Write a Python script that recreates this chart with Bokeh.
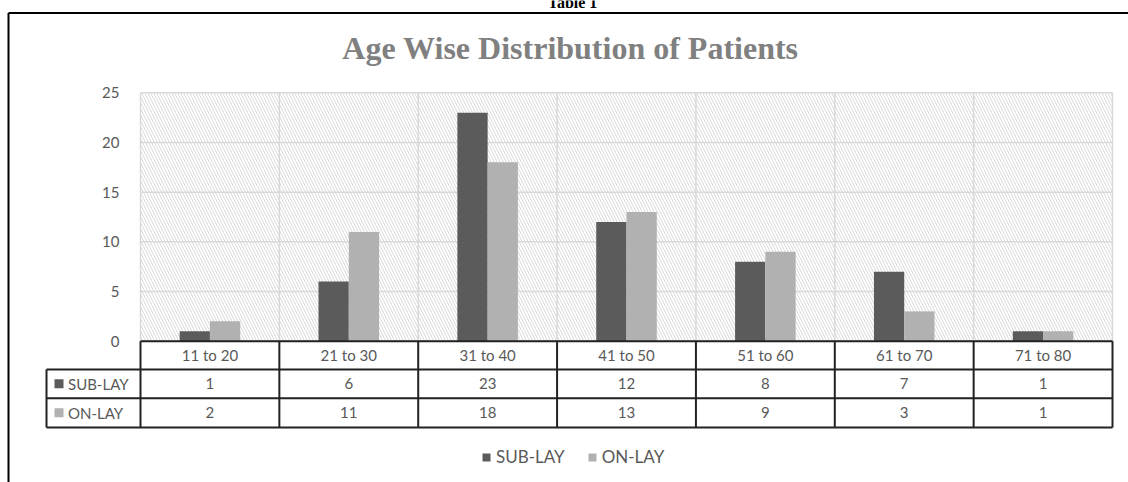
from bokeh.plotting import figure
from bokeh.models import Range1d, ColumnDataSource, Legend, LegendItem
from bokeh.core.properties import value
from bokeh.embed import file_html
from bokeh.resources import INLINE

# ---- data ----
categories = ["11 to 20", "21 to 30", "31 to 40", "41 to 50", "51 to 60", "61 to 70", "71 to 80"]
sub_lay = [1, 6, 23, 12, 8, 7, 1]
on_lay = [2, 11, 18, 13, 9, 3, 1]
series_names = ["SUB-LAY", "ON-LAY"]
y_ticks = [0, 5, 10, 15, 20, 25]
title_text = "Age Wise Distribution of Patients"
caption_text = "Table 1"

# ---- styles ----
C_SUB = "#5b5b5b"
C_ON = "#b1b1b1"
TXT = "#595959"
GRID = "#d9d9d9"
TBL = "#222222"
FONT = "Lato"
W, H = 1128, 482

# ---- layout (pixel geometry of the plot area) ----
X0_PX, X1_PX = 140.0, 1112.0      # left/right of category area
Y0_PX, Y25_PX = 340.7, 92.3       # pixel rows of value 0 and value 25
n = len(categories)
ymax = max(y_ticks)
kx = (X1_PX - X0_PX) / n
ky = (Y0_PX - Y25_PX) / ymax


def px(xp):
    return (xp - X0_PX) / kx


def py(yp):
    return (Y0_PX - yp) / ky


xc = [i + 0.5 for i in range(n)]
bw = 0.218

# table rows
r0, r1, r2, r3 = 0.0, py(369.0), py(397.7), py(427.0)
row_cat = (r0 + r1) / 2
row_sub = (r1 + r2) / 2
row_on = (r2 + r3) / 2
lab_left = px(46.0)

p = figure(width=W, height=H, output_backend="svg", toolbar_location=None,
           x_range=Range1d(px(0), px(W)), y_range=Range1d(py(H), py(0)),
           min_border=0, min_border_left=0, min_border_right=0,
           min_border_top=0, min_border_bottom=0)
p.outline_line_color = None
p.background_fill_color = "white"
p.border_fill_color = "white"
p.axis.visible = False
p.grid.visible = False

# hatched plot background
p.quad(left=[0], right=[n], bottom=[0], top=[ymax], fill_color=None, line_color=None,
       hatch_pattern="\\", hatch_color=GRID, hatch_scale=6, hatch_weight=1)

# gridlines
p.segment(x0=[0] * len(y_ticks), y0=y_ticks, x1=[n] * len(y_ticks), y1=y_ticks,
          line_color=GRID, line_width=1.5)
p.segment(x0=list(range(n + 1)), y0=[0] * (n + 1), x1=list(range(n + 1)),
          y1=[ymax] * (n + 1), line_color=GRID, line_width=1.5)

# y tick labels
p.text(x=[px(119)] * len(y_ticks), y=y_ticks, text=[str(t) for t in y_ticks],
       text_align="right", text_baseline="middle", text_font=value(FONT),
       text_font_size="15px", text_color=TXT)

src = ColumnDataSource(dict(x=xc, cat=categories,
                            sub_s=[str(v) for v in sub_lay], on_s=[str(v) for v in on_lay]))
r_sub = p.vbar(x=[v - bw / 2 for v in xc], top=sub_lay, width=bw, bottom=0,
               fill_color=C_SUB, line_color=None)
r_on = p.vbar(x=[v + bw / 2 for v in xc], top=on_lay, width=bw, bottom=0,
              fill_color=C_ON, line_color=None)

# data table lines
p.segment(x0=[0, lab_left, lab_left, lab_left], y0=[r0, r1, r2, r3],
          x1=[n] * 4, y1=[r0, r1, r2, r3], line_color=TBL, line_width=2)
p.segment(x0=list(range(n + 1)) + [lab_left], y0=[r0] * (n + 1) + [r1],
          x1=list(range(n + 1)) + [lab_left], y1=[r3] * (n + 2),
          line_color=TBL, line_width=2)

# table texts
for col, yy in (("cat", row_cat), ("sub_s", row_sub), ("on_s", row_on)):
    p.text(x="x", y=yy, text=col, source=src, text_align="center", text_baseline="middle",
           text_font=value(FONT), text_font_size="15px", text_color=TXT)

# row labels of the table
p.scatter(x=[px(58.5)] * 2, y=[row_sub, row_on], marker="square", size=9,
          fill_color=[C_SUB, C_ON], line_color=None)
p.text(x=[px(67.5)] * 2, y=[row_sub, row_on], text=series_names, text_align="left",
       text_baseline="middle", text_font=value(FONT), text_font_size="15px", text_color=TXT)

# title and caption
p.text(x=[px(570)], y=[py(47)], text=[title_text], text_align="center",
       text_baseline="middle", text_color="#808080", text_font=value("Liberation Serif"),
       text_font_style="bold", text_font_size="32px")
p.text(x=[px(572)], y=[py(1.5)], text=[caption_text], text_align="center",
       text_baseline="middle", text_color="black", text_font=value("Liberation Serif"),
       text_font_style="bold", text_font_size="16px")

# chart border (top and left)
p.segment(x0=[px(8), px(8)], y0=[py(12.5), py(12.5)], x1=[px(W + 2), px(8)],
          y1=[py(12.5), py(H + 2)], line_color="black", line_width=2)

legend = Legend(items=[LegendItem(label=series_names[0], renderers=[r_sub]),
                       LegendItem(label=series_names[1], renderers=[r_on])],
                orientation="horizontal", location=(481, 15), glyph_width=10, glyph_height=10,
                label_text_font=FONT, label_text_font_size="17px", label_text_color=TXT,
                label_standoff=5, spacing=22, padding=0, margin=0, border_line_color=None,
                background_fill_alpha=0, label_height=20)
p.add_layout(legend, "center")

open("out.html", "w").write(file_html(p, INLINE))
